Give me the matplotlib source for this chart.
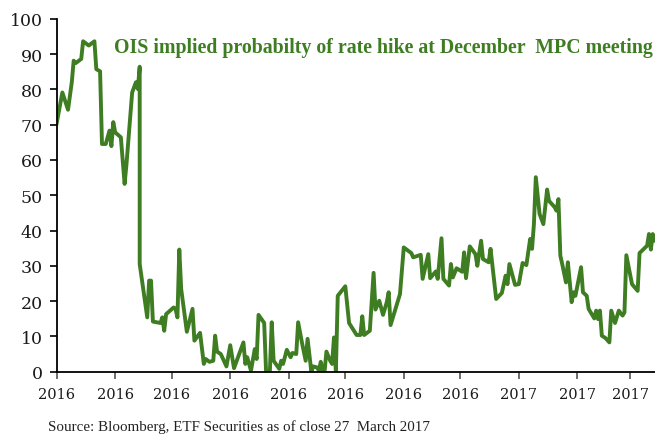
import numpy as np
import pandas as pd
import matplotlib
matplotlib.use("Agg")
import matplotlib.pyplot as plt
import matplotlib.dates as mdates

# days since 1 May 2016
day = [0, 3, 6, 8, 9, 10, 13, 14, 17, 20, 21, 23, 24, 26, 28, 29, 30, 31, 34, 36,
       37, 40, 42, 43, 44, 44, 48, 49, 50, 51, 55, 56, 57, 58, 62, 63, 64, 65, 66, 69,
       70, 72, 73, 76, 78, 79, 81, 83, 84, 85, 87, 90, 92, 94, 99, 100, 101, 103, 105, 106,
       107, 110, 111, 113, 114, 115, 118, 119, 120, 122, 124, 125, 127, 128, 130, 132, 133, 135, 136, 138,
       139, 140, 141, 142, 143, 145, 146, 147, 148, 149, 153, 155, 159, 161, 162, 163, 166, 168, 169, 171,
       173, 175, 176, 177, 182, 184, 188, 189, 193, 194, 197, 198, 201, 202, 204, 205, 208, 209, 210, 212,
       215, 216, 217, 219, 222, 223, 225, 226, 229, 230, 231, 233, 236, 238, 239, 240, 243, 245, 247, 249,
       251, 252, 253, 254, 256, 258, 260, 261, 264, 265, 266, 267, 268, 270, 271, 273, 274, 275, 278, 279,
       281, 282, 285, 286, 287, 288, 289, 291, 293, 294, 296, 298, 300, 301, 302, 305, 308, 309, 313, 314,
       315, 316, 317, 318]
prob = [70.4, 79.1, 74.2, 82.0, 88.1, 87.4, 88.6, 93.6, 92.4, 93.6, 85.7, 85.1, 64.5, 64.5, 68.3, 63.9, 70.7, 67.8, 66.4, 53.2,
        58.8, 79.1, 82.0, 80.1, 86.4, 30.5, 15.4, 25.8, 25.8, 14.2, 13.8, 15.4, 11.6, 16.3, 18.2, 17.8, 15.4, 34.6, 23.4, 11.3,
        13.5, 17.8, 8.8, 11.0, 2.2, 3.6, 2.8, 3.1, 10.2, 5.7, 5.0, 1.5, 7.5, 1.0, 8.3, 2.2, 4.1, 0.3, 6.4, 3.6,
        16.1, 13.8, 0.0, 0.0, 14.0, 3.1, 0.8, 3.1, 2.2, 6.2, 4.1, 5.3, 5.0, 14.0, 8.3, 3.1, 9.3, 0.0, 1.5, 1.2,
        0.3, 2.8, 0.0, 0.0, 5.7, 3.1, 2.2, 9.7, 0.0, 21.5, 24.2, 13.8, 10.4, 10.4, 15.7, 10.4, 11.6, 28.0, 17.6, 20.1,
        16.1, 19.7, 22.5, 13.2, 22.0, 35.2, 33.6, 32.4, 33.1, 26.3, 33.3, 26.5, 28.4, 26.3, 37.8, 26.3, 24.4, 30.5, 26.7, 29.3,
        28.3, 33.8, 26.5, 35.5, 33.3, 30.0, 37.1, 31.9, 31.0, 34.8, 30.0, 20.6, 22.3, 27.2, 24.8, 30.5, 24.6, 24.8, 30.8, 30.2,
        37.6, 34.8, 41.8, 55.1, 44.7, 41.8, 51.6, 48.4, 46.6, 45.6, 48.9, 32.9, 30.5, 25.3, 31.0, 19.7, 22.5, 21.5, 29.6, 22.5,
        21.5, 17.8, 15.1, 17.3, 14.9, 17.3, 10.2, 9.5, 8.3, 17.3, 13.8, 17.3, 15.9, 16.8, 33.0, 24.8, 22.9, 33.6, 35.7, 39.0,
        34.6, 39.0, 37.1, 37.5]

title = "OIS implied probabilty of rate hike at December  MPC meeting"
source = "Source: Bloomberg, ETF Securities as of close 27  March 2017"

green = "#3e7d22"

dates = pd.Timestamp("2016-05-01") + pd.to_timedelta(day, unit="D")

fig = plt.figure(figsize=(6.55, 4.35), dpi=100)
ax = fig.add_axes([56.7 / 655, 62.3 / 435, 630 / 655, 353 / 435])

ax.plot(dates, prob, color=green, lw=2.8, solid_joinstyle="round")

ax.set_xlim(pd.Timestamp("2016-05-01"), pd.Timestamp("2017-03-31"))
ax.set_ylim(0, 100)
ax.set_yticks(np.arange(0, 101, 10))
ax.xaxis.set_major_locator(mdates.MonthLocator())
ax.xaxis.set_major_formatter(mdates.DateFormatter("%Y"))

for s in ["top", "right"]:
    ax.spines[s].set_visible(False)
for s in ["left", "bottom"]:
    ax.spines[s].set_linewidth(1.3)

ax.tick_params(axis="y", length=5, width=1.2, pad=5, labelsize=12.5)
ax.tick_params(axis="x", length=5, width=1.2, color="#555555", pad=6, labelsize=10.5)
for lab in ax.get_xticklabels() + ax.get_yticklabels():
    lab.set_family("DejaVu Serif")
    lab.set_color("#1a1a1a")

fig.text(113.5 / 655, 1 - 48 / 435, title, color=green, fontsize=14.3,
         fontweight="bold", family="Liberation Serif", va="center", ha="left")
fig.text(47.5 / 655, 1 - 427 / 435, source, color="#222222", fontsize=10.8,
         family="Liberation Serif", va="center", ha="left")

fig.savefig("out.png", dpi=100)
